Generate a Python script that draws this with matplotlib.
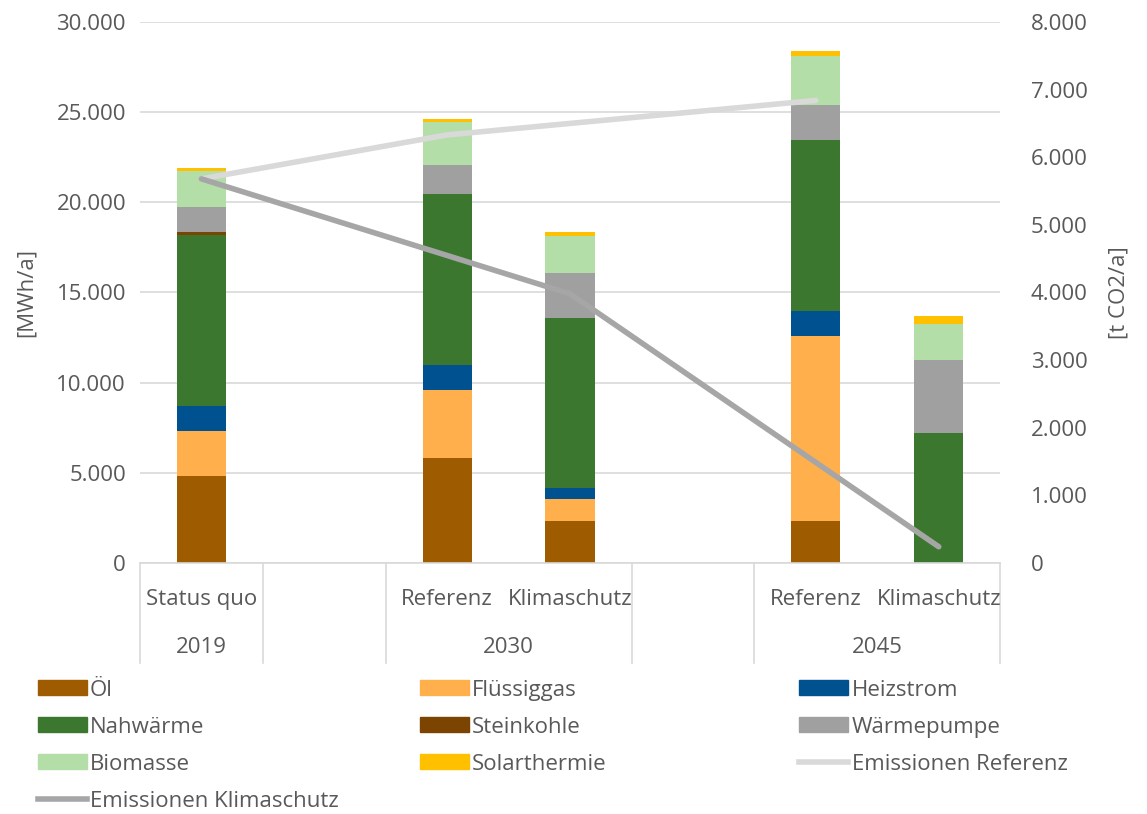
import numpy as np
import matplotlib
matplotlib.use("Agg")
import matplotlib.pyplot as plt
from matplotlib.ticker import FuncFormatter, MultipleLocator
from matplotlib.lines import Line2D
from matplotlib.patches import Patch

# slots on the category axis (empty slots are spacers)
scenarios = ["Status quo", "", "Referenz", "Klimaschutz", "", "Referenz", "Klimaschutz"]
years = ["2019", "", "2030", "", "2045"]
year_spans = [(0, 1), (1, 2), (2, 4), (4, 5), (5, 7)]

# MWh/a per energy source, one value per slot
oel = [4800, 0, 5800, 2350, 0, 2350, 0]
fluessiggas = [2500, 0, 3770, 1220, 0, 10240, 0]
heizstrom = [1420, 0, 1420, 570, 0, 1400, 0]
nahwaerme = [9450, 0, 9460, 9460, 0, 9480, 7200]
steinkohle = [170, 0, 0, 0, 0, 0, 0]
waermepumpe = [1410, 0, 1630, 2500, 0, 1910, 4060]
biomasse = [2010, 0, 2350, 2050, 0, 2740, 1990]
solarthermie = [130, 0, 200, 220, 0, 270, 440]

# t CO2/a, nan = no point in that slot
em_referenz = [5680, np.nan, 6330, np.nan, np.nan, 6840, np.nan]
em_klimaschutz = [5680, np.nan, np.nan, 3980, np.nan, np.nan, 240]

series = [
    ("Öl", oel, "#9E5B00"),
    ("Flüssiggas", fluessiggas, "#FFB04C"),
    ("Heizstrom", heizstrom, "#00518F"),
    ("Nahwärme", nahwaerme, "#3C7730"),
    ("Steinkohle", steinkohle, "#7B4400"),
    ("Wärmepumpe", waermepumpe, "#A0A0A0"),
    ("Biomasse", biomasse, "#B3DEA8"),
    ("Solarthermie", solarthermie, "#FFC000"),
]

text_col = "#595959"
grid_col = "#D9D9D9"
plt.rcParams["font.family"] = ["Open Sans", "DejaVu Sans"]
fs = 16

fig = plt.figure(figsize=(11.47, 8.14), dpi=100)
ax = fig.add_axes([0.122, 0.3084, 0.75, 0.6646])

x = np.arange(len(scenarios))
bottom = np.zeros(len(x))
for name, vals, col in series:
    vals = np.array(vals, dtype=float)
    ax.bar(x, vals, 0.4, bottom=bottom, color=col, zorder=2)
    bottom += vals

thousands = FuncFormatter(lambda v, p: f"{v:,.0f}".replace(",", "."))

ax.set_xlim(-0.5, len(x) - 0.5)
ax.set_ylim(0, 30000)
ax.yaxis.set_major_locator(MultipleLocator(5000))
ax.yaxis.set_major_formatter(thousands)
ax.grid(axis="y", color=grid_col, lw=1.2, zorder=0)
ax.set_xticks([])
for s in ["top", "left", "right"]:
    ax.spines[s].set_visible(False)
ax.spines["bottom"].set_color(grid_col)
ax.spines["bottom"].set_linewidth(1.2)
ax.tick_params(axis="y", length=0, labelsize=fs, labelcolor=text_col, pad=10)
ax.set_ylabel("[MWh/a]", fontsize=fs, color=text_col, labelpad=14)

ax2 = ax.twinx()
ax2.set_ylim(0, 8000)
ax2.yaxis.set_major_locator(MultipleLocator(1000))
ax2.yaxis.set_major_formatter(thousands)
ax2.tick_params(axis="y", length=0, labelsize=fs, labelcolor=text_col, pad=22)
for s in ["top", "left", "right", "bottom"]:
    ax2.spines[s].set_visible(False)
ax2.set_ylabel("[t CO2/a]", fontsize=fs, color=text_col, labelpad=15)

ref = np.array(em_referenz, dtype=float)
kli = np.array(em_klimaschutz, dtype=float)
m = ~np.isnan(ref)
ax2.plot(x[m], ref[m], color="#D9D9D9", lw=4, solid_capstyle="round", zorder=3)
m = ~np.isnan(kli)
ax2.plot(x[m], kli[m], color="#A6A6A6", lw=4, solid_capstyle="round", zorder=3)

# two-level category axis
tr = ax.get_xaxis_transform()
for i, lab in enumerate(scenarios):
    ax.text(i, -0.068, lab, transform=tr, ha="center", va="center", fontsize=fs, color=text_col)
for (a, b), lab in zip(year_spans, years):
    ax.text((a + b) / 2 - 0.5, -0.157, lab, transform=tr, ha="center", va="center",
            fontsize=fs, color=text_col)
for edge in sorted(set([s for s, e in year_spans] + [e for s, e in year_spans])):
    ax.plot([edge - 0.5, edge - 0.5], [0, -0.185], transform=tr, color=grid_col,
            lw=1.2, clip_on=False)

# legend: three columns placed like the original
patches = {n: Patch(color=c, label=n) for n, v, c in series}
line_ref = Line2D([], [], color="#D9D9D9", lw=4, label="Emissionen Referenz")
line_kli = Line2D([], [], color="#A6A6A6", lw=4, label="Emissionen Klimaschutz")
columns = [
    (0.033, [patches["Öl"], patches["Nahwärme"], patches["Biomasse"], line_kli]),
    (0.366, [patches["Flüssiggas"], patches["Steinkohle"], patches["Solarthermie"]]),
    (0.697, [patches["Heizstrom"], patches["Wärmepumpe"], line_ref]),
]
for xpos, hs in columns:
    fig.legend(handles=hs, loc="upper left", bbox_to_anchor=(xpos, 0.165),
               frameon=False, fontsize=fs, labelcolor=text_col, borderpad=0,
               borderaxespad=0, handlelength=2.2, handleheight=0.65,
               handletextpad=0.15, labelspacing=0.72)

fig.savefig("out.png", dpi=100)
